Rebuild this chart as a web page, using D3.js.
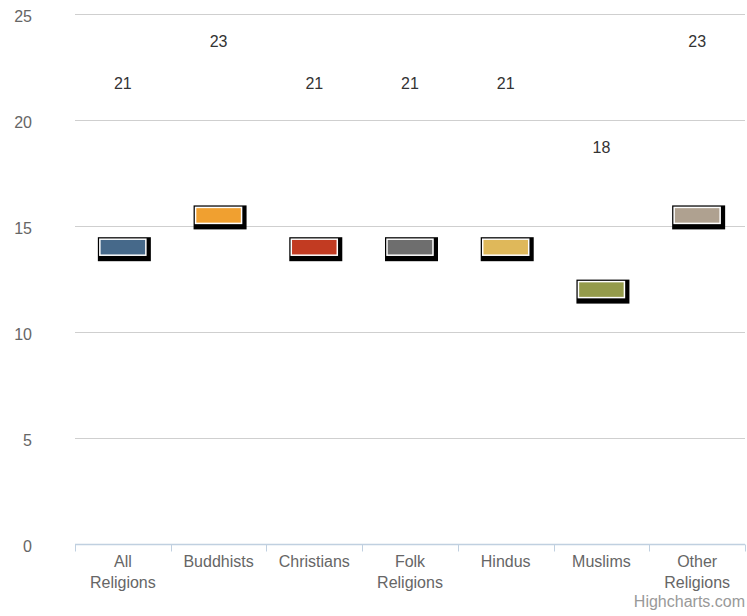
<!DOCTYPE html>
<html>
<head>
<meta charset="utf-8">
<script src="https://cdn.jsdelivr.net/npm/d3@7"></script>
<style>
  body { margin: 0; background: #fff; }
  text { font-family: "Liberation Sans", Arial, Helvetica, sans-serif; }
</style>
</head>
<body>
<svg id="chart" width="747" height="616"></svg>
<script>
const categories = ['All Religions', 'Buddhists', 'Christians', 'Folk Religions', 'Hindus', 'Muslims', 'Other Religions'];
const values = [14, 15.5, 14, 14, 14, 12, 15.5];
const labelValues = [21, 23, 21, 21, 21, 18, 23];
const colors = ['#46698a', '#f0a030', '#c23b22', '#6e6e6e', '#dfb85a', '#949b4b', '#afa190'];
const yTicks = [0, 5, 10, 15, 20, 25];

const svg = d3.select('#chart');
const width = 747;
const height = 616;
const margin = { top: 14, right: 2, bottom: 72, left: 75 };

// scales
const x = d3.scaleBand()
  .domain(categories)
  .range([margin.left, width - margin.right]);

const y = d3.scaleLinear()
  .domain([0, 25])
  .range([height - margin.bottom, margin.top]);

// gridlines
svg.append('g')
  .selectAll('line')
  .data(yTicks.filter(d => d > 0))
  .enter()
  .append('line')
  .attr('x1', margin.left)
  .attr('x2', width - margin.right)
  .attr('y1', d => Math.round(y(d)) + 0.5)
  .attr('y2', d => Math.round(y(d)) + 0.5)
  .attr('stroke', '#cfcfcf')
  .attr('stroke-width', 1);

// y axis labels
svg.append('g')
  .selectAll('text')
  .data(yTicks)
  .enter()
  .append('text')
  .attr('x', 32)
  .attr('y', d => y(d) + 2)
  .attr('dy', '0.35em')
  .attr('text-anchor', 'end')
  .attr('font-size', 16)
  .attr('fill', '#666')
  .text(d => d);

// x axis line + ticks
const axisY = Math.round(y(0)) + 0.5;
svg.append('line')
  .attr('x1', margin.left)
  .attr('x2', width - margin.right)
  .attr('y1', axisY)
  .attr('y2', axisY)
  .attr('stroke', '#c0d0e0')
  .attr('stroke-width', 1.5);

const tickPos = categories.map(c => x(c)).concat([x.range()[1]]);
svg.append('g')
  .selectAll('line')
  .data(tickPos)
  .enter()
  .append('line')
  .attr('x1', d => Math.round(d) + 0.5)
  .attr('x2', d => Math.round(d) + 0.5)
  .attr('y1', axisY)
  .attr('y2', axisY + 7)
  .attr('stroke', '#c0d0e0')
  .attr('stroke-width', 1);

// x axis labels (wrap two-word labels)
const xLabels = svg.append('g')
  .selectAll('text')
  .data(categories)
  .enter()
  .append('text')
  .attr('x', d => x(d) + x.bandwidth() / 2)
  .attr('y', axisY + 22)
  .attr('text-anchor', 'middle')
  .attr('font-size', 16)
  .attr('fill', '#666');

xLabels.each(function(d) {
  const words = d.split(' ');
  const t = d3.select(this);
  words.forEach((w, i) => {
    t.append('tspan')
      .attr('x', x(d) + x.bandwidth() / 2)
      .attr('dy', i === 0 ? 0 : 21)
      .text(w);
  });
});

// markers: black shadow box + colored box with white border
const cx = d => x(d) + x.bandwidth() / 2;
const marks = svg.append('g')
  .selectAll('g')
  .data(categories)
  .enter()
  .append('g');

marks.append('rect')
  .attr('x', d => cx(d) - 25)
  .attr('y', (d, i) => y(values[i]) - 10)
  .attr('width', 53)
  .attr('height', 24)
  .attr('fill', '#000');

marks.append('rect')
  .attr('x', d => cx(d) - 23)
  .attr('y', (d, i) => y(values[i]) - 8)
  .attr('width', 46)
  .attr('height', 16)
  .attr('fill', (d, i) => colors[i])
  .attr('stroke', '#fff')
  .attr('stroke-width', 1.5);

// data labels
svg.append('g')
  .selectAll('text')
  .data(categories)
  .enter()
  .append('text')
  .attr('x', d => cx(d))
  .attr('y', (d, i) => y(labelValues[i]) - 15)
  .attr('dy', '0.35em')
  .attr('text-anchor', 'middle')
  .attr('font-size', 16)
  .attr('fill', '#333')
  .text((d, i) => labelValues[i]);

// credits
svg.append('text')
  .attr('x', 745)
  .attr('y', 607)
  .attr('text-anchor', 'end')
  .attr('font-size', 16)
  .attr('fill', '#999')
  .text('Highcharts.com');
</script>
</body>
</html>
